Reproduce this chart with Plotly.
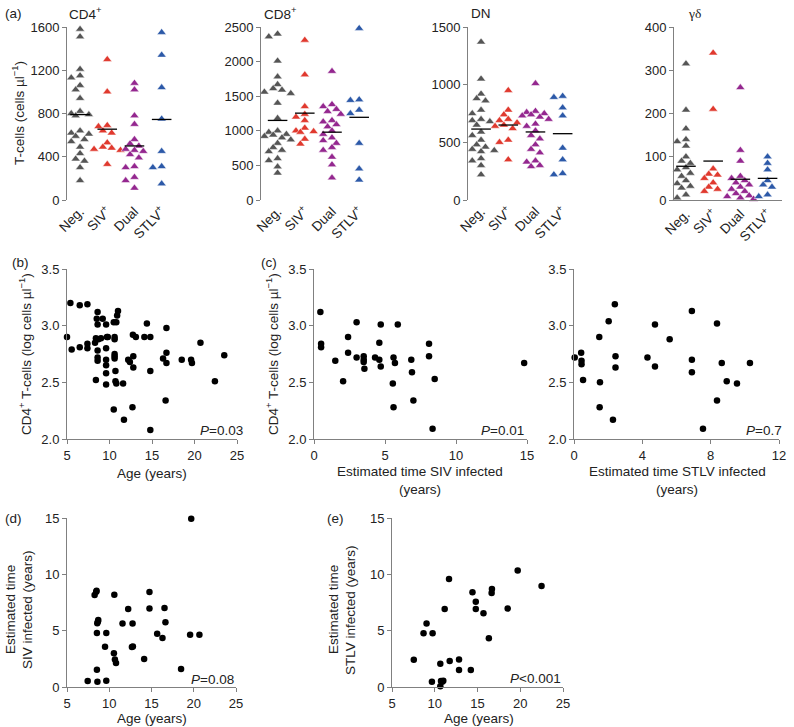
import plotly.graph_objects as go

W, H = 794, 727
def fx(p): return p / W
def fy(p): return 1 - p / H

FONT = "Liberation Sans, Arial, sans-serif"
TXT = "#222222"
AXC = "#808080"

# ---------------- DATA ----------------
groups = ["Neg.", "SIV<sup>+</sup>", "Dual", "STLV<sup>+</sup>"]
group_colors = ["#555555", "#e0392e", "#94278f", "#2c59a8"]

cd4_neg = [1580, 1510, 1210, 1150, 1130, 1060, 1020, 940, 820, 800, 790, 780, 760, 640, 620, 610, 590, 580, 560, 540, 490, 430, 380, 360, 300, 180]
cd4_siv = [1300, 1000, 690, 680, 640, 620, 530, 490, 480, 470, 460, 330]
cd4_dual = [1080, 1020, 780, 700, 560, 520, 500, 470, 460, 450, 420, 390, 310, 300, 210, 180, 110]
cd4_stlv = [1550, 1340, 1040, 750, 450, 310, 300, 150]
cd4_lines = [790, 655, 500, 745]

cd8_neg = [2400, 2360, 2010, 1780, 1670, 1610, 1590, 1560, 1540, 1400, 1180, 1000, 980, 950, 940, 920, 900, 870, 820, 760, 720, 700, 600, 570, 480, 390]
cd8_siv = [2310, 1810, 1350, 1240, 1200, 1150, 1040, 1000, 990, 980, 880, 810]
cd8_dual = [1860, 1380, 1350, 1310, 1280, 1240, 1150, 1130, 1090, 1060, 1000, 950, 900, 860, 820, 760, 720, 620, 510, 320]
cd8_stlv = [2480, 1450, 1440, 1300, 1250, 820, 450, 290]
cd8_lines = [1150, 1255, 980, 1195]

dn_neg = [1370, 1050, 920, 880, 860, 850, 780, 750, 700, 690, 680, 650, 590, 560, 520, 480, 460, 440, 430, 420, 360, 340, 300, 220]
dn_siv = [950, 780, 740, 700, 690, 670, 650, 640, 620, 520, 500, 350]
dn_dual = [1010, 770, 760, 750, 740, 730, 720, 700, 660, 640, 600, 560, 530, 480, 440, 410, 340, 330, 300, 290]
dn_stlv = [900, 890, 800, 730, 450, 350, 230, 220]
dn_lines = [615, 650, 590, 575]

gd_neg = [315, 208, 165, 140, 135, 125, 100, 90, 85, 75, 70, 62, 55, 45, 38, 32, 28, 12, 5]
gd_siv = [340, 210, 72, 60, 58, 50, 40, 30, 25, 20]
gd_dual = [260, 115, 90, 55, 50, 45, 40, 35, 30, 25, 20, 15, 10, 8, 5, 2]
gd_stlv = [100, 85, 70, 45, 35, 30, 12, 8]
gd_lines = [78, 90, 48, 50]

b_age = [5.0, 5.4, 5.55, 6.5, 6.5, 7.4, 7.4, 7.4, 8.3, 8.4, 8.4, 8.5, 8.6, 8.6, 8.6, 8.6, 8.6, 8.7, 9.0, 9.2, 9.6, 9.6, 9.6, 9.6, 9.6, 9.6, 9.7, 9.8, 10.5, 10.5, 10.6, 10.6, 10.6, 10.6, 10.6, 10.7, 10.7, 10.8, 10.9, 11.0, 10.8, 11.6, 11.7, 12.2, 12.4, 12.7, 12.75, 12.8, 12.8, 13.1, 14.1, 14.4, 14.8, 14.8, 14.8, 16.3, 16.6, 16.7, 16.7, 16.7, 18.5, 19.6, 19.7, 20.7, 22.4, 23.5]
b_cd4 = [2.90, 3.20, 2.79, 3.18, 2.81, 3.19, 2.84, 2.80, 2.85, 2.89, 2.52, 3.06, 3.12, 3.01, 2.78, 2.72, 2.69, 2.88, 2.89, 3.06, 3.01, 2.80, 2.70, 2.65, 2.58, 2.48, 2.90, 2.90, 3.03, 2.26, 2.90, 2.88, 2.75, 2.73, 2.71, 2.60, 2.51, 3.03, 3.09, 3.13, 2.49, 2.49, 2.17, 2.70, 2.68, 2.28, 2.92, 2.73, 2.63, 2.90, 2.90, 3.02, 2.90, 2.60, 2.08, 2.71, 2.34, 2.67, 2.98, 2.76, 2.70, 2.70, 2.67, 2.85, 2.51, 2.74]

c1_time = [0.45, 0.5, 0.5, 1.5, 2.05, 2.4, 2.4, 3.0, 3.0, 3.5, 3.5, 3.5, 3.55, 4.3, 4.6, 4.6, 4.7, 4.7, 5.55, 5.6, 5.6, 5.7, 5.9, 6.85, 6.9, 7.0, 8.1, 8.1, 8.35, 8.5, 14.8]
c1_cd4 = [3.12, 2.84, 2.81, 2.69, 2.51, 2.76, 2.90, 3.03, 2.72, 2.73, 2.70, 2.68, 2.62, 2.72, 2.85, 2.70, 3.01, 2.64, 2.49, 2.72, 2.28, 2.67, 3.01, 2.70, 2.59, 2.34, 2.84, 2.73, 2.09, 2.53, 2.67]

c2_time = [0.04, 0.42, 0.44, 0.44, 0.53, 1.48, 1.52, 1.5, 2.03, 2.28, 2.39, 2.43, 2.43, 4.3, 4.74, 4.74, 5.6, 6.9, 6.9, 6.9, 7.55, 8.37, 8.37, 8.65, 8.94, 9.54, 10.3]
c2_cd4 = [2.72, 2.76, 2.69, 2.66, 2.52, 2.90, 2.50, 2.28, 3.04, 2.17, 3.19, 2.73, 2.63, 2.72, 3.01, 2.64, 2.88, 3.13, 2.70, 2.59, 2.09, 3.02, 2.34, 2.67, 2.51, 2.49, 2.67]

d_age = [7.45, 8.27, 8.46, 8.5, 8.54, 8.54, 8.6, 8.58, 8.66, 8.7, 9.65, 9.5, 9.65, 10.55, 10.6, 10.67, 10.8, 11.57, 12.24, 12.68, 12.8, 12.76, 14.13, 14.76, 14.76, 15.67, 16.3, 16.54, 16.65, 18.5, 19.7, 19.57, 20.67]
d_siv = [0.53, 8.16, 8.46, 8.55, 4.80, 1.53, 0.47, 5.66, 5.81, 5.95, 4.80, 3.57, 0.56, 3.0, 8.19, 2.45, 2.12, 5.63, 6.93, 3.54, 3.6, 5.63, 2.48, 8.43, 6.96, 4.72, 4.36, 7.01, 5.75, 1.59, 14.94, 4.63, 4.63]

e_age = [7.55, 8.69, 9.04, 9.75, 9.67, 10.65, 10.65, 10.73, 10.88, 11.0, 11.16, 11.67, 11.75, 12.84, 12.84, 14.22, 14.41, 14.8, 14.8, 15.7, 16.33, 16.65, 16.69, 18.53, 19.7, 22.49]
e_stlv = [2.42, 4.77, 5.63, 4.77, 0.47, 2.06, 0.06, 0.53, 0.47, 0.56, 6.93, 9.58, 2.30, 2.45, 1.50, 1.50, 8.40, 7.57, 6.93, 6.54, 4.33, 8.34, 8.69, 6.96, 10.34, 8.96]

# ---------------- FIGURE ----------------
fig = go.Figure()
layout = dict(width=W, height=H, margin=dict(l=0, r=0, t=0, b=0, autoexpand=False),
              paper_bgcolor="white", plot_bgcolor="white", showlegend=False,
              font=dict(family=FONT, size=13, color=TXT))

TRI = 8.0
PX_X = 27.2
PX_Y = 173.0

def swarm(vals, ymax, size=TRI):
    """deterministic beeswarm-like horizontal spread (pixel based)"""
    ppy = PX_Y / ymax
    placed = []
    offs = [0.0] * len(vals)
    order = sorted(range(len(vals)), key=lambda i: -vals[i])
    step = size * 0.55
    cands = [0.0]
    for k in range(1, 4):
        cands += [-k * step, k * step]
    mind = size * 0.75
    for i in order:
        y = vals[i] * ppy
        best, bestd = cands[0], -1
        for c in cands:
            d = min([((c - px) ** 2 + (y - py) ** 2) ** 0.5 for px, py in placed] or [99])
            if d >= mind:
                best = c
                break
            if d > bestd:
                best, bestd = c, d
        placed.append((best, y))
        offs[i] = best / PX_X
    return offs

def ax_style(**kw):
    d = dict(showgrid=False, zeroline=False, linecolor=AXC, linewidth=1,
             tickcolor=AXC, ticklen=4, tickwidth=1, automargin=False,
             ticklabeloverflow="allow",
             tickfont=dict(family=FONT, size=13, color=TXT))
    d.update(kw)
    return d

# panel (a)
a_panels = [
    ("CD4", [cd4_neg, cd4_siv, cd4_dual, cd4_stlv], cd4_lines, 1600, [0, 400, 800, 1200, 1600], 67, 0.48, False),
    ("CD8", [cd8_neg, cd8_siv, cd8_dual, cd8_stlv], cd8_lines, 2500, [0, 500, 1000, 1500, 2000, 2500], 261, 0.61, False),
    ("DN", [dn_neg, dn_siv, dn_dual, dn_stlv], dn_lines, 1500, [0, 500, 1000, 1500], 468, 0.48, False),
    ("GD", [gd_neg, gd_siv, gd_dual, gd_stlv], gd_lines, 400, [0, 100, 200, 300, 400], 674, 0.44, True),
]
for k, (name, series, lines, ymax, yt, x0, off, xline) in enumerate(a_panels, start=1):
    xa = "x" if k == 1 else f"x{k}"
    ya = "y" if k == 1 else f"y{k}"
    wpx = 108 if xline else 115
    layout["xaxis" if k == 1 else f"xaxis{k}"] = ax_style(
        domain=[fx(x0), fx(x0 + wpx)], range=[-off, -off + wpx / PX_X],
        tickvals=[0, 1, 2, 3], ticktext=groups, tickangle=-45, ticks="",
        showline=xline, anchor=ya, tickfont=dict(family=FONT, size=13.5, color=TXT))
    layout["yaxis" if k == 1 else f"yaxis{k}"] = ax_style(
        domain=[fy(200), fy(27)], range=[0, ymax], tickvals=yt, ticks="outside",
        showline=True, anchor=xa)
    for g, vals in enumerate(series):
        offs = swarm(vals, ymax)
        fig.add_trace(go.Scatter(
            x=[g + o for o in offs], y=vals, mode="markers", xaxis=xa, yaxis=ya,
            cliponaxis=False,
            marker=dict(symbol="triangle-up", size=TRI, color=group_colors[g],
                        line=dict(color="white", width=0.5))))
    for g, v in enumerate(lines):
        fig.add_trace(go.Scatter(x=[g - 0.36, g + 0.36], y=[v, v], mode="lines",
                                 xaxis=xa, yaxis=ya, cliponaxis=False,
                                 line=dict(color="black", width=1.3)))

# scatter panels
sc_panels = [
    (5, b_age, b_cd4, (67, 237), (5, 25), [5, 10, 15, 20, 25], (269, 439), (2.0, 3.5), [2.0, 2.5, 3.0, 3.5], ".1f"),
    (6, c1_time, c1_cd4, (314, 527), (0, 15), [0, 5, 10, 15], (269, 439), (2.0, 3.5), [2.0, 2.5, 3.0, 3.5], ".1f"),
    (7, c2_time, c2_cd4, (574, 779), (0, 12), [0, 4, 8, 12], (269, 439), (2.0, 3.5), [2.0, 2.5, 3.0, 3.5], ".1f"),
    (8, d_age, d_siv, (67, 236), (5, 25), [5, 10, 15, 20, 25], (518, 687), (0, 15), [0, 5, 10, 15], ""),
    (9, e_age, e_stlv, (392, 563), (5, 25), [5, 10, 15, 20, 25], (518, 687), (0, 15), [0, 5, 10, 15], ""),
]
for k, xs, ys, xd, xr, xt, yd, yr, yt, fmt in sc_panels:
    layout[f"xaxis{k}"] = ax_style(domain=[fx(xd[0]), fx(xd[1])], range=list(xr), tickvals=xt,
                                   ticktext=[str(v) for v in xt], tickmode="array",
                                   ticks="outside", showline=True, anchor=f"y{k}")
    layout[f"yaxis{k}"] = ax_style(domain=[fy(yd[1]), fy(yd[0])], range=list(yr), tickvals=yt,
                                   tickformat=fmt, ticks="outside", showline=True, anchor=f"x{k}")
    fig.add_trace(go.Scatter(x=xs, y=ys, mode="markers", xaxis=f"x{k}", yaxis=f"y{k}",
                             cliponaxis=False,
                             marker=dict(symbol="circle", size=6.5, color="black")))

# ---------------- TEXT ----------------
ann = []
def text(x, y, s, xanchor="center", size=13, angle=0, family=FONT, yanchor="middle"):
    ann.append(dict(x=fx(x), y=fy(y), xref="paper", yref="paper", text=s, showarrow=False,
                    xanchor=xanchor, yanchor=yanchor, textangle=angle,
                    font=dict(family=family, size=size, color=TXT)))

# panel letters
text(3, 13, "(a)", "left", 13.5)
text(10, 262, "(b)", "left", 13.5)
text(259, 262, "(c)", "left", 13.5)
text(3, 518, "(d)", "left", 13.5)
text(325, 518, "(e)", "left", 13.5)

# (a) titles
text(67, 13, "CD4<sup>+</sup>", "left", 13.5)
text(262, 13, "CD8<sup>+</sup>", "left", 13.5)
text(469, 13, "DN", "left", 13.5)
text(686, 13, "γδ", "left", 13.5, family="Liberation Serif, Times New Roman, serif")
text(18, 113, "T-cells (cells µl<sup>−1</sup>)", angle=-90, size=13.5)

# (b),(c)
text(25, 354, "CD4<sup>+</sup> T-cells (log cells µl<sup>−1</sup>)", angle=-90, size=13.5)
text(272, 354, "CD4<sup>+</sup> T-cells (log cells µl<sup>−1</sup>)", angle=-90, size=13.5)
text(152, 473, "Age (years)", size=13.5)
text(420, 472, "Estimated time SIV infected", size=13.5)
text(420, 489, "(years)", size=13.5)
text(677, 472, "Estimated time STLV infected", size=13.5)
text(677, 489, "(years)", size=13.5)
text(245, 430, "<i>P</i>=0.03", "right", 13.5)
text(526, 430, "<i>P</i>=0.01", "right", 13.5)
text(784, 430, "<i>P</i>=0.7", "right", 13.5)

# (d),(e)
text(10, 610, "Estimated time", angle=-90, size=13.5)
text(27, 610, "SIV infected (years)", angle=-90, size=13.5)
text(333, 610, "Estimated time", angle=-90, size=13.5)
text(350, 610, "STLV infected (years)", angle=-90, size=13.5)
text(152, 718, "Age (years)", size=13.5)
text(479, 718, "Age (years)", size=13.5)
text(236, 679, "<i>P</i>=0.08", "right", 13.5)
text(563, 678, "<i>P</i>&lt;0.001", "right", 13.5)

layout["annotations"] = ann
fig.update_layout(**layout)
fig.write_html("out.html", config={"displayModeBar": False, "staticPlot": True},
               post_script="document.body.style.margin='0';document.body.style.padding='0';"
                           "document.body.style.overflow='hidden';"
                           "document.documentElement.style.overflow='hidden';")
